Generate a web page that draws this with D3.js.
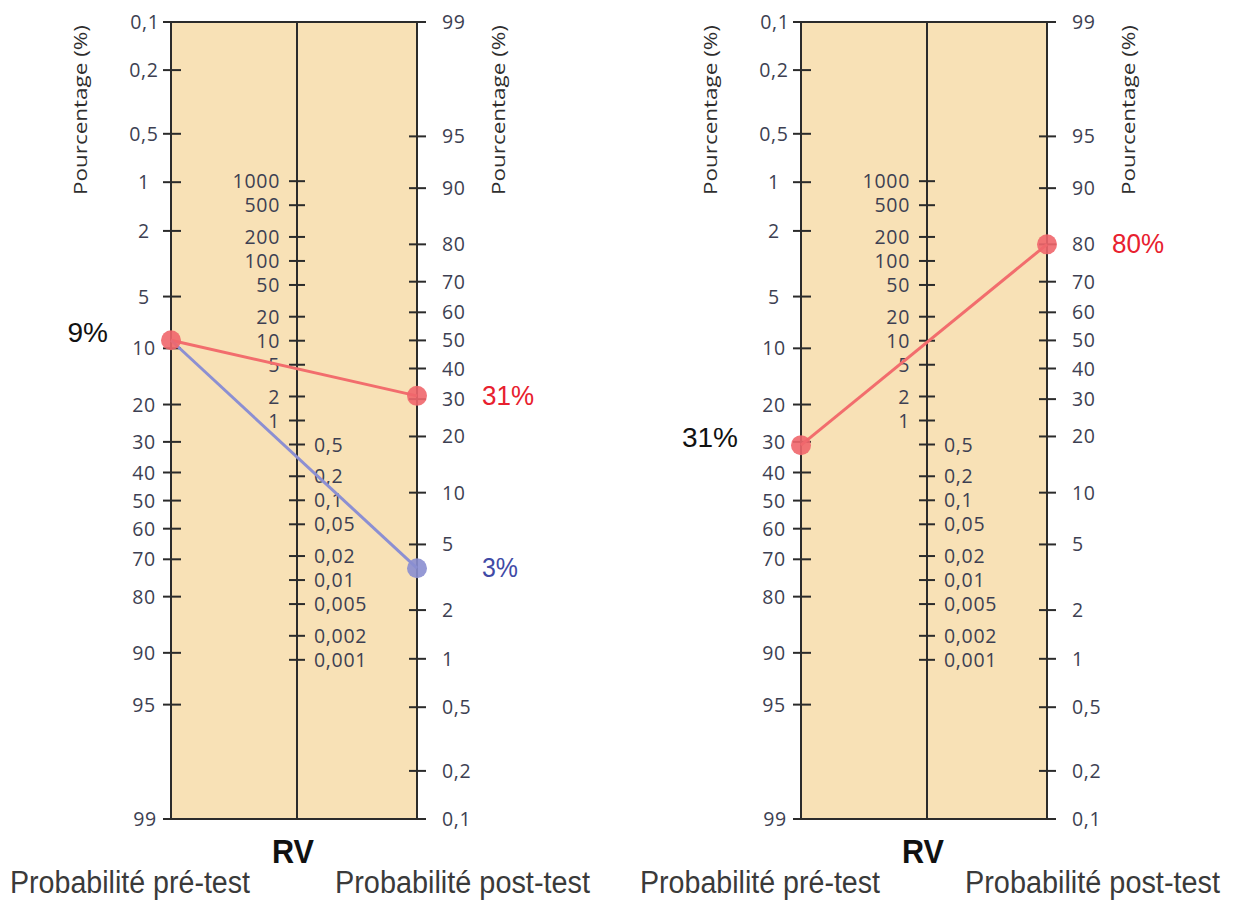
<!DOCTYPE html>
<html>
<head>
<meta charset="utf-8">
<script src="https://cdn.jsdelivr.net/npm/d3@7"></script>
<style>
  body { margin: 0; background: #fff; }
  svg { display: block; }
</style>
</head>
<body>
<svg id="chart" width="1239" height="901"></svg>
<script>
// Graduations of the three axes
const preTicks = [0.1, 0.2, 0.5, 1, 2, 5, 10, 20, 30, 40, 50, 60, 70, 80, 90, 95, 99]
const postTicks = [99, 95, 90, 80, 70, 60, 50, 40, 30, 20, 10, 5, 2, 1, 0.5, 0.2, 0.1]
const rvTicksHigh = [1000, 500, 200, 100, 50, 20, 10, 5, 2, 1]
const rvTicksLow = [0.5, 0.2, 0.1, 0.05, 0.02, 0.01, 0.005, 0.002, 0.001]

// One entry per nomogram
const preTest = [9, 31]
const preLabels = ['9%', '31%']
const postTest = [[31, 3.6], [80]]
const postLabels = [['31%', '3%'], ['80%']]
const postColors = [['red', 'blue'], ['red']]

const colors = {
  red: { line: '#f26d6d', dot: '#f0666c', text: '#e8202e' },
  blue: { line: '#8c8fd2', dot: '#8a8ed0', text: '#3f4aa6' }
}

const yTop = 22
const yBottom = 819
const panelX = [171, 801]
const wLeft = 126
const wRight = 246

const logit = p => Math.log(p / (100 - p))
const fmt = v => String(v).replace('.', ',')

const preLin = d3.scaleLinear().domain([logit(0.1), logit(99)]).range([yTop, yBottom])
const postLin = d3.scaleLinear().domain([logit(99), logit(0.1)]).range([yTop, yBottom])
const preY = p => preLin(logit(p))
const postY = p => postLin(logit(p))

// middle scale: midpoint of any line through the two outer scales
const k = (yBottom - yTop) / (logit(99) - logit(0.1))
const rvOne = (preY(50) + postY(50)) / 2
const rvY = d3.scaleLog().domain([0.001, 1000])
  .range([rvOne + k / 2 * Math.log(1000), rvOne - k / 2 * Math.log(1000)])

const svg = d3.select('#chart')
const tickFont = "'Open Sans', sans-serif"
const narrow = "'Liberation Sans Narrow', 'Liberation Sans', sans-serif"
const axisColor = '#2b2b2b'
const labelColor = '#3d3f52'

function drawTicks (g, values, scale, x, x1, x2, lx, anchor) {
  const t = g.selectAll(null).data(values).enter()
  t.append('line')
    .attr('x1', x + x1).attr('x2', x + x2)
    .attr('y1', d => scale(d)).attr('y2', d => scale(d))
    .attr('stroke', axisColor).attr('stroke-width', 2)
  t.append('text')
    .attr('x', x + lx).attr('y', d => scale(d))
    .attr('dy', '0.36em')
    .attr('text-anchor', anchor)
    .attr('font-family', tickFont).attr('font-size', 19.5)
    .attr('letter-spacing', 0.7)
    .attr('fill', labelColor)
    .text(fmt)
}

panelX.forEach((x0, i) => {
  const g = svg.append('g')
  const xm = x0 + wLeft
  const xr = x0 + wRight

  g.append('rect')
    .attr('x', x0).attr('y', yTop)
    .attr('width', wRight).attr('height', yBottom - yTop)
    .attr('fill', '#f8e1b6')

  // frame lines
  g.append('line').attr('x1', x0 - 8).attr('x2', xr + 9).attr('y1', yTop).attr('y2', yTop)
    .attr('stroke', axisColor).attr('stroke-width', 2)
  g.append('line').attr('x1', x0 - 8).attr('x2', xr + 9).attr('y1', yBottom).attr('y2', yBottom)
    .attr('stroke', axisColor).attr('stroke-width', 2)
  ;[x0, xm, xr].forEach(x => {
    g.append('line').attr('x1', x).attr('x2', x).attr('y1', yTop).attr('y2', yBottom)
      .attr('stroke', axisColor).attr('stroke-width', 2)
  })

  drawTicks(g, preTicks.slice(1, -1), preY, x0, -8, 10, -27, 'middle')
  drawTicks(g, [0.1, 99], preY, x0, 0, 0, -26, 'middle')
  drawTicks(g, postTicks.slice(1, -1), postY, xr, -8, 9, 25, 'start')
  drawTicks(g, [99, 0.1], postY, xr, 0, 0, 25, 'start')
  drawTicks(g, rvTicksHigh, rvY, xm, -8, 8, -17, 'end')
  drawTicks(g, rvTicksLow, rvY, xm, -8, 8, 17, 'start')

  // vertical titles
  ;[x0 - 84, xr + 88].forEach(x => {
    g.append('text')
      .attr('transform', `translate(${x},${yTop + 173}) rotate(-90)`)
      .attr('font-family', tickFont).attr('font-size', 18)
      .attr('textLength', 170).attr('lengthAdjust', 'spacingAndGlyphs')
      .attr('fill', '#2e2e2e')
      .text('Pourcentage (%)')
  })

  g.append('text')
    .attr('x', xm - 4).attr('y', 863)
    .attr('text-anchor', 'middle')
    .attr('font-family', narrow).attr('font-weight', 'bold').attr('font-size', 34)
    .attr('textLength', 42).attr('lengthAdjust', 'spacingAndGlyphs')
    .attr('fill', '#111')
    .text('RV')

  g.append('text')
    .attr('x', x0 - 161).attr('y', 893)
    .attr('font-family', narrow).attr('font-size', 31)
    .attr('textLength', 240).attr('lengthAdjust', 'spacingAndGlyphs')
    .attr('fill', '#3a3a3a')
    .text('Probabilité pré-test')
  g.append('text')
    .attr('x', x0 + 164).attr('y', 893)
    .attr('font-family', narrow).attr('font-size', 31)
    .attr('textLength', 255).attr('lengthAdjust', 'spacingAndGlyphs')
    .attr('fill', '#3a3a3a')
    .text('Probabilité post-test')

  // lines from pre-test to post-test
  const lines = postTest[i].map((p, j) => ({ pre: preTest[i], post: p, label: postLabels[i][j], c: colors[postColors[i][j]] }))

  g.selectAll(null).data(lines).enter().append('line')
    .attr('x1', x0).attr('y1', d => preY(d.pre))
    .attr('x2', xr).attr('y2', d => postY(d.post))
    .attr('stroke', d => d.c.line).attr('stroke-width', 3)

  g.selectAll(null).data(lines).enter().append('circle')
    .attr('cx', xr).attr('cy', d => postY(d.post)).attr('r', 10)
    .attr('fill', d => d.c.dot).attr('fill-opacity', 0.9)

  g.append('circle')
    .attr('cx', x0).attr('cy', preY(preTest[i])).attr('r', 10)
    .attr('fill', colors.red.dot).attr('fill-opacity', 0.9)

  g.selectAll(null).data(lines).enter().append('text')
    .attr('x', xr + 65).attr('y', d => postY(d.post) + 9)
    .attr('font-family', narrow).attr('font-size', 28)
    .attr('textLength', d => d.label.length === 3 ? 52 : 36).attr('lengthAdjust', 'spacingAndGlyphs')
    .attr('fill', d => d.c.text)
    .text(d => d.label)

  g.append('text')
    .attr('x', x0 - 63).attr('y', preY(preTest[i]) + 2)
    .attr('text-anchor', 'end')
    .attr('font-family', narrow).attr('font-size', 28)
    .attr('fill', '#111')
    .text(preLabels[i])
})
</script>
</body>
</html>
